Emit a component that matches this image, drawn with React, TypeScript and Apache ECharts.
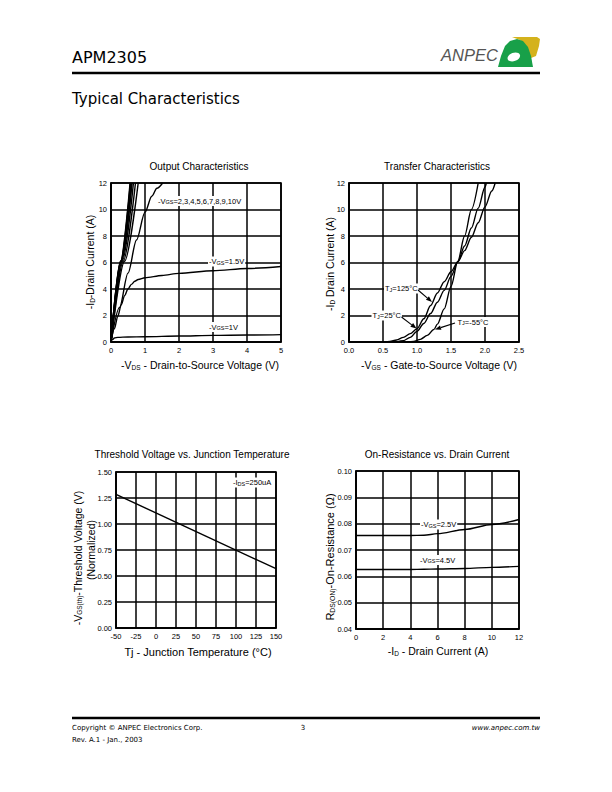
import React, { useEffect, useRef } from 'react';
import * as echarts from 'echarts';

const SANS = '"Liberation Sans", Arial, sans-serif';
const WIDE = '"DejaVu Sans", "Liberation Sans", sans-serif';

// ---------- Output Characteristics (-VDS [V], -ID [A]) ----------
const outVgs1V = [[0, 0], [0.05, 0.2], [0.1, 0.3], [0.2, 0.35], [0.5, 0.38], [1, 0.4], [2, 0.45], [3, 0.5], [4, 0.53], [5, 0.56]];
const outVgs15V = [[0, 0], [0.1, 1.0], [0.2, 1.95], [0.3, 2.8], [0.4, 3.5], [0.5, 4.0], [0.6, 4.35], [0.7, 4.58], [0.8, 4.72], [1, 4.85], [1.5, 5.02], [2, 5.18], [3, 5.38], [4, 5.55], [5, 5.7]];
const outVgs2V = [[0, 0], [0.25, 2.6], [0.5, 5.2], [0.75, 7.7], [1.0, 9.8], [1.2, 11.0], [1.35, 11.6], [1.52, 12]];
const outVgs3V = [[0, 0], [0.4, 6.1], [0.8, 12]];
const outVgs4V = [[0, 0], [0.36, 6.1], [0.72, 12]];
const outVgs5V = [[0, 0], [0.33, 6.1], [0.66, 12]];
const outVgs6V = [[0, 0], [0.31, 6.1], [0.62, 12]];
const outVgs7V = [[0, 0], [0.3, 6.1], [0.6, 12]];
const outVgs8V = [[0, 0], [0.29, 6.1], [0.58, 12]];
const outVgs9V = [[0, 0], [0.285, 6.1], [0.57, 12]];
const outVgs10V = [[0, 0], [0.28, 6.1], [0.56, 12]];

// ---------- Transfer Characteristics (-VGS [V], -ID [A]) ----------
const trTj125 = [[0.5, 0], [0.6, 0.04], [0.7, 0.15], [0.8, 0.35], [0.9, 0.63], [1.0, 1.0], [1.1, 1.75], [1.2, 2.75], [1.3, 3.7], [1.4, 4.55], [1.5, 5.3], [1.6, 6.05], [1.7, 6.9], [1.8, 7.9], [1.9, 9.0], [2.0, 10.2], [2.1, 11.4], [2.15, 12]];
const trTj25 = [[0.7, 0], [0.8, 0.1], [0.9, 0.35], [1.0, 0.8], [1.1, 1.4], [1.2, 2.15], [1.3, 3.0], [1.4, 3.9], [1.5, 4.95], [1.6, 6.05], [1.7, 7.25], [1.8, 8.6], [1.9, 10.1], [2.0, 11.7], [2.02, 12]];
const trTjM55 = [[0.85, 0], [0.95, 0.05], [1.05, 0.2], [1.15, 0.5], [1.25, 0.95], [1.3, 1.35], [1.4, 2.5], [1.5, 4.2], [1.6, 6.1], [1.7, 8.0], [1.8, 10.0], [1.9, 12]];

// ---------- Threshold Voltage vs Tj ----------
const thTemps = [-50, 150];
const thVgsNorm = [1.285, 0.57];

// ---------- On-Resistance vs Drain Current ----------
const rdsId = [0, 2, 4, 5, 6, 8, 10, 12];
const rdsVgs25 = [0.0755, 0.0755, 0.0755, 0.0756, 0.0762, 0.0778, 0.0797, 0.0816];
const rdsVgs45 = [0.0626, 0.0626, 0.0626, 0.0627, 0.0628, 0.063, 0.0634, 0.0638];

function grid(left: number, top: number, width: number, height: number) {
  return { left, top, width, height, show: true, borderColor: '#000', borderWidth: 1.6, backgroundColor: 'transparent', containLabel: false };
}

function axis(gridIndex: number, min: number, max: number, interval: number, fmt: (v: number) => string, margin: number) {
  return {
    type: 'value', gridIndex, min, max, interval,
    axisLine: { show: true, onZero: false, lineStyle: { color: '#000', width: 1.6 } },
    axisTick: { show: false },
    axisLabel: { formatter: fmt, fontFamily: SANS, fontSize: 7.5, color: '#000', margin },
    splitLine: { show: true, lineStyle: { color: '#000', width: 1.5 } },
  };
}

function curve(xi: number, data: number[][], smooth: number | boolean = 0.3) {
  return {
    type: 'line', xAxisIndex: xi, yAxisIndex: xi, data, showSymbol: false, symbol: 'none',
    smooth, smoothMonotone: 'x',
    lineStyle: { color: '#000', width: 1.4 }, silent: true,
  };
}

function label(text: string, x: number, y: number, bg = false, size = 7.5) {
  return {
    type: 'text', x, y, silent: true, z: 50,
    style: {
      text, fontFamily: SANS, fontSize: size, fill: '#000', textVerticalAlign: 'middle', textAlign: 'left',
      backgroundColor: bg ? '#fff' : undefined, padding: bg ? [1, 1] : 0,
      rich: { s: { fontSize: 5.5, fontFamily: SANS, fill: '#000', verticalAlign: 'bottom' } },
    },
  };
}

function axisName(text: string, x: number, y: number, vertical: boolean, size = 10.5) {
  return {
    type: 'text', x, y, rotation: vertical ? Math.PI / 2 : 0, silent: true,
    style: {
      text, fontFamily: SANS, fontSize: size, fill: '#000', textAlign: 'center', textVerticalAlign: 'middle',
      rich: { s: { fontSize: size * 0.62, fontFamily: SANS, fill: '#000', verticalAlign: 'bottom' } },
    },
  };
}

function arrow(x1: number, y1: number, x2: number, y2: number) {
  const a = Math.atan2(y2 - y1, x2 - x1);
  const L = 6, W = 2.3;
  const bx = x2 - L * Math.cos(a), by = y2 - L * Math.sin(a);
  const px = -Math.sin(a) * W, py = Math.cos(a) * W;
  return [
    { type: 'line', z: 50, silent: true, shape: { x1, y1, x2: bx, y2: by }, style: { stroke: '#000', lineWidth: 1.1 } },
    { type: 'polygon', z: 50, silent: true, shape: { points: [[x2, y2], [bx + px, by + py], [bx - px, by - py]] }, style: { fill: '#000' } },
  ];
}

function title(text: string, x: number, y: number) {
  return { type: 'text', x, y, silent: true, style: { text, fontFamily: SANS, fontSize: 10, fill: '#000', textAlign: 'center', textVerticalAlign: 'middle' } };
}

export default function App() {
  const ref = useRef<HTMLDivElement>(null);
  useEffect(() => {
    if (!ref.current) return;
    const chart = echarts.init(ref.current, undefined, { renderer: 'svg' });
    const int = (v: number) => String(v);
    const f1 = (v: number) => v.toFixed(1);
    const f2 = (v: number) => v.toFixed(2);

    const option: any = {
      animation: false,
      backgroundColor: '#fff',
      grid: [grid(111, 183, 170, 159), grid(349, 183, 170, 159), grid(116, 472, 160, 156), grid(356, 471, 163, 158)],
      xAxis: [
        axis(0, 0, 5, 1, int, 4),
        axis(1, 0, 2.5, 0.5, f1, 4),
        axis(2, -50, 150, 25, int, 4),
        axis(3, 0, 12, 2, int, 4),
      ],
      yAxis: [
        axis(0, 0, 12, 2, int, 4),
        axis(1, 0, 12, 2, int, 4),
        axis(2, 0, 1.5, 0.25, f2, 4),
        axis(3, 0.04, 0.1, 0.01, f2, 4),
      ],
      series: [
        curve(0, outVgs1V), curve(0, outVgs15V), curve(0, outVgs2V), curve(0, outVgs3V),
        curve(0, outVgs4V), curve(0, outVgs5V), curve(0, outVgs6V), curve(0, outVgs7V),
        curve(0, outVgs8V), curve(0, outVgs9V), curve(0, outVgs10V),
        curve(1, trTj125), curve(1, trTj25), curve(1, trTjM55),
        curve(2, thTemps.map((t, i) => [t, thVgsNorm[i]]), false),
        curve(3, rdsId.map((x, i) => [x, rdsVgs25[i]])),
        curve(3, rdsId.map((x, i) => [x, rdsVgs45[i]])),
      ],
      graphic: [
        // header
        { type: 'text', x: 72, y: 57.5, style: { text: 'APM2305', fontFamily: WIDE, fontSize: 16, fill: '#000', textVerticalAlign: 'middle' } },
        { type: 'text', x: 441, y: 54.5, style: { text: 'ANPEC', fontFamily: SANS, fontStyle: 'italic', fontSize: 16.5, fill: '#555', textVerticalAlign: 'middle' } },
        { type: 'polygon', shape: { points: [[512, 37], [537, 37], [540, 39], [539, 46], [536, 56], [531, 58], [526, 46], [520, 40]] }, style: { fill: '#d4b21c' } },
        { type: 'polygon', shape: { points: [[498, 67], [501, 56], [505, 46], [510, 41], [517, 39], [523, 41], [528, 47], [531, 56], [533, 67]] }, style: { fill: '#18a049' } },
        { type: 'ellipse', shape: { cx: 514, cy: 57, rx: 6.5, ry: 4.2 }, rotation: 0.35, originX: 514, originY: 57, style: { fill: '#fff' } },
        { type: 'line', shape: { x1: 72, y1: 73, x2: 540, y2: 73 }, style: { stroke: '#000', lineWidth: 2.7 } },
        { type: 'text', x: 72, y: 99, style: { text: 'Typical Characteristics', fontFamily: WIDE, fontSize: 15, fill: '#000', textVerticalAlign: 'middle' } },
        // chart titles
        title('Output Characteristics', 199, 166),
        title('Transfer Characteristics', 437, 166),
        title('Threshold Voltage vs. Junction Temperature', 192, 454),
        title('On-Resistance vs. Drain Current', 437, 454),
        // axis names
        axisName('-V{s|DS} - Drain-to-Source Voltage (V)', 200, 365, false),
        axisName('-I{s|D}-Drain Current (A)', 90, 262, true),
        axisName('-V{s|GS} - Gate-to-Source Voltage (V)', 439, 365, false),
        axisName('-I{s|D} Drain Current (A)', 330, 264, true),
        axisName('Tj - Junction Temperature (°C)', 198, 652, false, 11),
        axisName('-V{s|GS(th)}-Threshold Voltage (V)', 77.5, 558, true, 10.5),
        axisName('(Normalized)', 90.5, 550, true, 10.5),
        axisName('-I{s|D} - Drain Current (A)', 438, 651, false),
        axisName('R{s|DS(ON)}-On-Resistance (Ω)', 330, 557, true, 11),
        // chart 1 labels
        label('-V{s|GS}=2,3,4,5,6,7,8,9,10V', 157, 201, true),
        label('-V{s|GS}=1.5V', 208, 261.5, true),
        label('-V{s|GS}=1V', 208, 327, true),
        // chart 2 labels + arrows
        label('T{s|J}=125°C', 384, 288.5, true),
        label('T{s|J}=25°C', 371.5, 315.5, true),
        label('T{s|J}=-55°C', 456.5, 322, true),
        ...arrow(418, 290, 432, 302),
        ...arrow(401.5, 317, 416.5, 328.5),
        ...arrow(455, 323, 435, 329.5),
        // chart 3 label
        label('-I{s|DS}=250uA', 232, 482.5, true),
        // chart 4 labels
        label('-V{s|GS}=2.5V', 420, 524.5, true),
        label('-V{s|GS}=4.5V', 419, 560, true),
        // footer
        { type: 'line', shape: { x1: 72, y1: 718, x2: 540, y2: 718 }, style: { stroke: '#000', lineWidth: 2.5 } },
        { type: 'text', x: 72, y: 727.5, style: { text: 'Copyright © ANPEC Electronics Corp.', fontFamily: WIDE, fontSize: 7, fill: '#000', textVerticalAlign: 'middle' } },
        { type: 'text', x: 303, y: 727.5, style: { text: '3', fontFamily: WIDE, fontSize: 7, fill: '#000', textAlign: 'center', textVerticalAlign: 'middle' } },
        { type: 'text', x: 540, y: 727.5, style: { text: 'www.anpec.com.tw', fontFamily: WIDE, fontStyle: 'italic', fontSize: 7, fill: '#000', textAlign: 'right', textVerticalAlign: 'middle' } },
        { type: 'text', x: 72, y: 740, style: { text: 'Rev. A.1 - Jan., 2003', fontFamily: WIDE, fontSize: 7, fill: '#000', textVerticalAlign: 'middle' } },
      ],
    };
    chart.setOption(option);
    return () => chart.dispose();
  }, []);
  return <div ref={ref} style={{ position: 'absolute', left: 0, top: 0, width: 612, height: 792 }} />;
}
